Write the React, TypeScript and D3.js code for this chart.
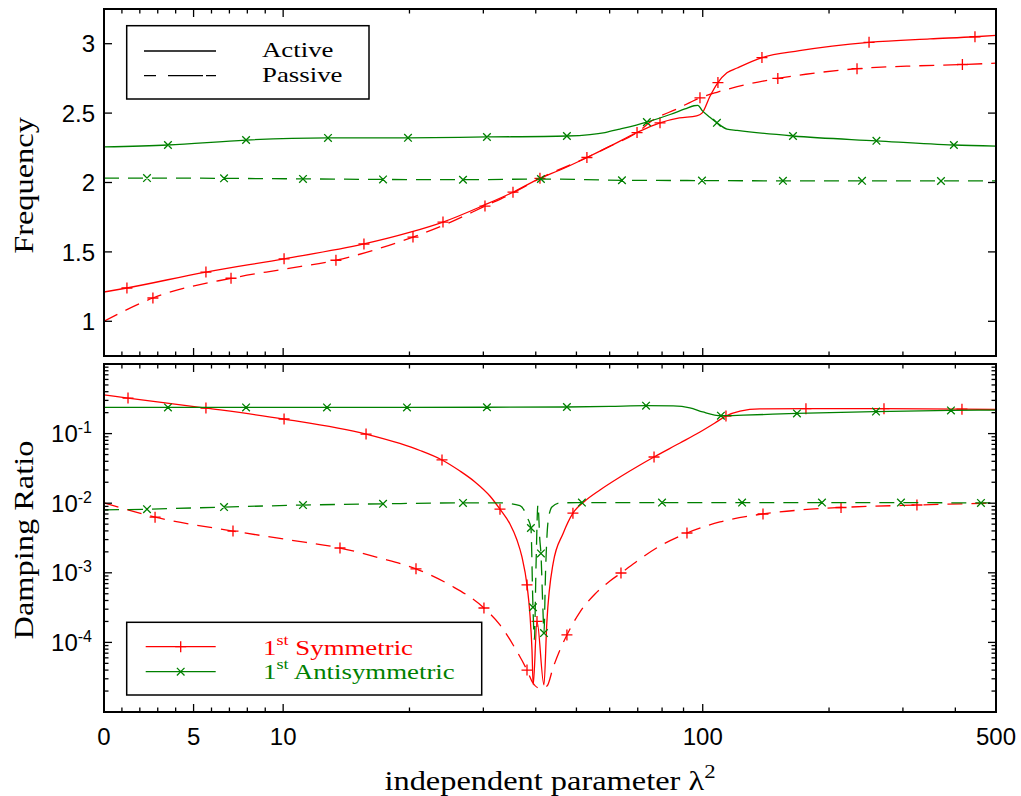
import React from 'react';
import * as d3 from 'd3';

type Pt = [number, number, number]; // [lambda^2, value, marker flag]

const RED = '#ff0000';
const GREEN = '#008000';
const SERIF = "'Liberation Serif', 'Times New Roman', serif";
const SANS = "'Liberation Sans', Arial, Helvetica, sans-serif";

// axis ticks
const xMajorTicks = [0, 5, 10, 100, 500];
const xMinorTicks = [1, 2, 3, 4, 6, 7, 8, 9, 20, 30, 40, 50, 60, 70, 80, 90, 200, 300, 400];
const freqTicks = [1, 1.5, 2, 2.5, 3];
const dampDecades = [-5, -4, -3, -2, -1, 0];
const dampLabelled = [-4, -3, -2, -1];

// Frequency, active system, 1st symmetric mode
const freqActiveSym: Pt[] = [
  [0, 1.211, 0], [1.28, 1.24, 1], [5.69, 1.355, 1], [10.05, 1.45, 1], [15.58, 1.557, 1],
  [20, 1.64, 0], [24.04, 1.715, 1], [30.3, 1.84, 0], [35.3, 1.93, 1], [40.9, 2.03, 0],
  [45.7, 2.09, 0], [52.96, 2.18, 1], [60, 2.26, 0], [69.7, 2.36, 0], [79.1, 2.43, 1],
  [88, 2.465, 0], [96.7, 2.48, 0], [99.6, 2.5, 0], [104, 2.62, 0], [108.7, 2.72, 1],
  [114.2, 2.79, 0], [120.8, 2.825, 0], [138.4, 2.9, 1], [170, 2.95, 0], [249.1, 3.01, 1],
  [348, 3.035, 0], [445.5, 3.05, 1], [500, 3.06, 0],
];
// Frequency, passive system, 1st symmetric mode
const freqPassiveSym: Pt[] = [
  [0, 1.0, 0], [2.73, 1.168, 1], [7.09, 1.31, 1], [10, 1.375, 0], [13.36, 1.44, 1],
  [20.39, 1.607, 1], [24.04, 1.69, 0], [30.27, 1.83, 1], [35.3, 1.925, 0], [40.93, 2.03, 1],
  [52.96, 2.18, 0], [60, 2.26, 0], [69.73, 2.36, 1], [76.1, 2.45, 0], [86.8, 2.53, 0],
  [98.5, 2.61, 1], [108.1, 2.65, 0], [120.8, 2.69, 0], [151, 2.75, 1], [176, 2.78, 0],
  [233.2, 2.82, 1], [320, 2.84, 0], [415.8, 2.85, 1], [500, 2.86, 0],
];
// Frequency, active system, 1st antisymmetric mode
const freqActiveAnti: Pt[] = [
  [0, 2.256, 0], [3.57, 2.27, 1], [7.93, 2.306, 1], [12.79, 2.321, 1], [19.84, 2.322, 1],
  [30.6, 2.328, 1], [47.46, 2.335, 1], [53.86, 2.345, 0], [58.48, 2.36, 0], [63.5, 2.385, 0],
  [73.6, 2.435, 1], [83.6, 2.49, 0], [90.7, 2.53, 0], [95.3, 2.553, 0], [97.4, 2.556, 0],
  [99.6, 2.52, 0], [104, 2.47, 0], [108.1, 2.43, 1], [114.2, 2.385, 0], [120.8, 2.375, 0],
  [164.1, 2.335, 1], [259.4, 2.3, 1], [396.8, 2.27, 1], [500, 2.262, 0],
];
// Frequency, passive system, 1st antisymmetric mode
const freqPassiveAnti: Pt[] = [
  [0, 2.032, 0], [2.4, 2.032, 1], [6.7, 2.03, 1], [11.15, 2.026, 1], [17.3, 2.022, 1],
  [26.83, 2.02, 1], [41.15, 2.025, 1], [64.2, 2.016, 1], [99.6, 2.014, 1], [155.3, 2.012, 1],
  [239.7, 2.012, 1], [369.7, 2.011, 1], [500, 2.011, 0],
];

// Damping ratio, active system, 1st symmetric mode
const dampActiveSym: Pt[] = [
  [0, 0.359, 0], [1.34, 0.324, 1], [5.69, 0.233, 1], [10.05, 0.162, 1], [15.76, 0.0986, 1],
  [18.97, 0.0721, 0], [21.19, 0.0572, 0], [23.91, 0.0418, 1], [26.39, 0.029, 0],
  [28.66, 0.0202, 0], [31.1, 0.0127, 0], [32.87, 0.0082, 1], [34.72, 0.00502, 0],
  [36.08, 0.00296, 0], [37.08, 0.00169, 0], [38.12, 0.00067, 1], [38.75, 0.000248, 0],
  [39.18, 0.0000778, 0], [39.44, 0.0000245, 0], [40.27, 0.0002, 1], [41.84, 0.0000245, 0],
  [42.5, 0.00019, 0], [44.0, 0.00137, 0], [46.5, 0.0037, 0], [49.05, 0.0072, 1],
  [52.41, 0.01076, 0], [56.9, 0.01549, 0], [63.5, 0.02378, 0], [70.87, 0.0354, 0],
  [76.55, 0.0461, 1], [88.26, 0.0733, 0], [98.5, 0.1054, 0], [106.9, 0.142, 0],
  [113.6, 0.179, 1], [122.7, 0.211, 0], [136.9, 0.226, 0], [176.2, 0.228, 1],
  [270.4, 0.228, 1], [414.8, 0.224, 1], [500, 0.222, 0],
];
// Damping ratio, passive system, 1st symmetric mode
const dampPassiveSym: Pt[] = [
  [0, 0.0101, 0], [2.85, 0.0063, 1], [7.2, 0.00398, 1], [10.38, 0.00296, 0], [13.66, 0.00227, 1],
  [17.01, 0.00163, 0], [20.73, 0.00114, 1], [24.98, 0.000668, 0], [30.1, 0.000312, 1],
  [32.87, 0.000178, 0], [35.68, 0.0000831, 0], [38.12, 0.00004, 1], [39.39, 0.0000261, 0],
  [40.8, 0.000022, 0], [42.54, 0.0000236, 0], [43.96, 0.0000429, 0], [45.67, 0.0000778, 0],
  [47.46, 0.000128, 1], [50.97, 0.000273, 0], [55.37, 0.000496, 0], [60.09, 0.000763, 0],
  [63.85, 0.000993, 1], [70.87, 0.00158, 0], [79.11, 0.00243, 0], [91.72, 0.00373, 1],
  [109.9, 0.00537, 0], [139.2, 0.007, 1], [170.5, 0.00798, 0], [213.6, 0.00867, 1],
  [324, 0.00942, 1], [500, 0.01007, 0],
];
// Damping ratio, active system, 1st antisymmetric mode
const dampActiveAnti: Pt[] = [
  [0, 0.238, 0], [3.57, 0.238, 1], [7.93, 0.238, 1], [12.72, 0.238, 1], [19.73, 0.238, 1],
  [30.6, 0.239, 1], [47.46, 0.241, 1], [60, 0.246, 0], [73.26, 0.252, 1], [85, 0.25, 0],
  [93.2, 0.235, 0], [100, 0.205, 0], [110.5, 0.181, 1], [125, 0.184, 0], [167.7, 0.195, 1],
  [258.8, 0.207, 1], [390.5, 0.215, 1], [500, 0.218, 0],
];
// Damping ratio, passive system, 1st antisymmetric mode
const dampPassiveAnti: Pt[] = [
  [0, 0.008, 0], [2.4, 0.0082, 1], [6.7, 0.0088, 1], [11.15, 0.0094, 1], [17.3, 0.0098, 1],
  [26.83, 0.0101, 1], [33, 0.0101, 0], [36.67, 0.0092, 0], [38.3, 0.006, 0], [38.95, 0.0044, 1],
  [39.39, 0.00032, 1], [39.7, 0.00011, 0], [40.05, 0.0012, 0], [40.48, 0.0095, 0],
  [40.9, 0.003, 0], [41.15, 0.0019, 1], [41.6, 0.0003, 0], [41.84, 0.000136, 1],
  [42.2, 0.001, 0], [42.8, 0.0055, 0], [43.7, 0.0088, 0], [45.67, 0.0101, 0],
  [51.53, 0.0102, 1], [79.98, 0.0102, 1], [124.1, 0.0102, 1], [192.4, 0.0102, 1],
  [296.8, 0.0102, 1], [460.4, 0.0101, 1], [500, 0.0101, 0],
];

// λ² axis: linear up to 10, logarithmic above (smooth join at 10)
const LIN = 0.0427;
const tx = (x: number) => (x <= 10 ? x * LIN : 10 * LIN + Math.log10(x / 10));

const DASH = '15,9';

function plusPath(x: number, y: number, r = 5.5) {
  return `M${x - r},${y}H${x + r}M${x},${y - r}V${y + r}`;
}
function crossPath(x: number, y: number, r = 3.8) {
  return `M${x - r},${y - r}L${x + r},${y + r}M${x - r},${y + r}L${x + r},${y - r}`;
}

function Serif({ x, y, size, anchor = 'start', rotate = false, fill = '#000', sx = 1.2, children }: any) {
  return (
    <text
      transform={`translate(${x},${y})${rotate ? ' rotate(-90)' : ''} scale(${sx},1)`}
      fontFamily={SERIF}
      fontSize={size}
      textAnchor={anchor}
      fill={fill}
    >
      {children}
    </text>
  );
}

export default function App() {
  const W = 1021;
  const H = 796;
  const L = 104;
  const R = 996;
  const top1 = 9, bot1 = 356;
  const top2 = 364, bot2 = 712;

  const xs = d3.scaleLinear().domain([tx(0), tx(500)]).range([L, R]);
  const X = (v: number) => xs(tx(v));
  const yF = d3.scaleLinear().domain([0.75, 3.25]).range([bot1, top1]);
  const yD = d3.scaleLog().domain([1e-5, 1]).range([bot2, top2]);

  const lineF = d3.line<Pt>().x(d => X(d[0])).y(d => yF(d[1])).curve(d3.curveMonotoneX);
  const lineD = d3.line<Pt>().x(d => X(d[0])).y(d => yD(d[1])).curve(d3.curveMonotoneX);

  const series = (
    data: Pt[],
    gen: d3.Line<Pt>,
    y: (v: number) => number,
    color: string,
    dashed: boolean,
    mark: 'plus' | 'cross',
    key: string,
  ) => (
    <g key={key}>
      <path d={gen(data) || ''} fill="none" stroke={color} strokeWidth={1.3} strokeDasharray={dashed ? DASH : undefined} />
      <path
        d={data.filter(d => d[2]).map(d => (mark === 'plus' ? plusPath(X(d[0]), y(d[1])) : crossPath(X(d[0]), y(d[1])))).join('')}
        fill="none"
        stroke={color}
        strokeWidth={1.3}
      />
    </g>
  );

  const xTicks = (yTop: number, yBot: number, key: string) => (
    <g key={key} stroke="#000" strokeWidth={1.3}>
      {xMajorTicks.concat(xMinorTicks).map(v => {
        const len = xMajorTicks.includes(v) ? 8 : 4.5;
        const x = X(v);
        return (
          <g key={v}>
            <line x1={x} x2={x} y1={yBot} y2={yBot - len} />
            <line x1={x} x2={x} y1={yTop} y2={yTop + len} />
          </g>
        );
      })}
    </g>
  );

  const logMinor: number[] = [];
  dampDecades.slice(0, -1).forEach(d => {
    for (let k = 2; k <= 9; k++) logMinor.push(k * Math.pow(10, d));
  });

  return (
    <svg width={W} height={H} style={{ position: 'absolute', left: 0, top: 0, background: '#fff' }}>
      <rect x={0} y={0} width={W} height={H} fill="#fff" />
      <defs>
        <clipPath id="c1"><rect x={L} y={top1} width={R - L} height={bot1 - top1} /></clipPath>
        <clipPath id="c2"><rect x={L} y={top2} width={R - L} height={bot2 - top2} /></clipPath>
      </defs>

      {/* upper panel: frequency */}
      <g clipPath="url(#c1)">
        {series(freqActiveSym, lineF, yF, RED, false, 'plus', 'fas')}
        {series(freqPassiveSym, lineF, yF, RED, true, 'plus', 'fps')}
        {series(freqActiveAnti, lineF, yF, GREEN, false, 'cross', 'faa')}
        {series(freqPassiveAnti, lineF, yF, GREEN, true, 'cross', 'fpa')}
      </g>
      {xTicks(top1, bot1, 'xt1')}
      <g stroke="#000" strokeWidth={1.3}>
        {freqTicks.map(v => (
          <g key={v}>
            <line x1={L} x2={L + 8} y1={yF(v)} y2={yF(v)} />
            <line x1={R} x2={R - 8} y1={yF(v)} y2={yF(v)} />
          </g>
        ))}
      </g>
      {freqTicks.map(v => (
        <text key={v} x={95} y={yF(v) + 8.6} textAnchor="end" fontFamily={SANS} fontSize={24}>
          {String(v)}
        </text>
      ))}
      <rect x={L} y={top1} width={R - L} height={bot1 - top1} fill="none" stroke="#000" strokeWidth={2} />

      {/* legend: line styles */}
      <rect x={126.7} y={25.7} width={242.3} height={73.3} fill="#fff" stroke="#000" strokeWidth={1.5} />
      <line x1={144} x2={216} y1={51} y2={51} stroke="#000" strokeWidth={1.3} />
      <line x1={144} x2={216} y1={75.7} y2={75.7} stroke="#000" strokeWidth={1.3} strokeDasharray="12,12,35,3,10" />
      <Serif x={262} y={57.3} size={22} sx={1.22}>Active</Serif>
      <Serif x={262} y={81.7} size={22} sx={1.22}>Passive</Serif>

      {/* lower panel: damping ratio */}
      <g clipPath="url(#c2)">
        {series(dampActiveSym, lineD, yD, RED, false, 'plus', 'das')}
        {series(dampPassiveSym, lineD, yD, RED, true, 'plus', 'dps')}
        {series(dampActiveAnti, lineD, yD, GREEN, false, 'cross', 'daa')}
        {series(dampPassiveAnti, lineD, yD, GREEN, true, 'cross', 'dpa')}
      </g>
      {xTicks(top2, bot2, 'xt2')}
      <g stroke="#000" strokeWidth={1.3}>
        {dampDecades.map(d => {
          const y = yD(Math.pow(10, d));
          return (
            <g key={d}>
              <line x1={L} x2={L + 8} y1={y} y2={y} />
              <line x1={R} x2={R - 8} y1={y} y2={y} />
            </g>
          );
        })}
        {logMinor.map(v => (
          <g key={v}>
            <line x1={L} x2={L + 4.5} y1={yD(v)} y2={yD(v)} />
            <line x1={R} x2={R - 4.5} y1={yD(v)} y2={yD(v)} />
          </g>
        ))}
      </g>
      {dampLabelled.map(d => (
        <text key={d} x={92} y={yD(Math.pow(10, d)) + 8.6} textAnchor="end" fontFamily={SANS} fontSize={24}>
          10
          <tspan fontSize={16} dy={-9}>{String(d)}</tspan>
        </text>
      ))}
      <rect x={L} y={top2} width={R - L} height={bot2 - top2} fill="none" stroke="#000" strokeWidth={2} />

      {/* legend: modes */}
      <rect x={126.7} y={622.3} width={355} height={72.7} fill="#fff" stroke="#000" strokeWidth={1.5} />
      <line x1={145.7} x2={215.7} y1={646.7} y2={646.7} stroke={RED} strokeWidth={1.3} />
      <path d={plusPath(180.7, 646.7)} stroke={RED} strokeWidth={1.3} />
      <line x1={145.7} x2={215.7} y1={671.7} y2={671.7} stroke={GREEN} strokeWidth={1.3} />
      <path d={crossPath(180.7, 671.7)} stroke={GREEN} strokeWidth={1.3} />
      <Serif x={263} y={655} size={22} sx={1.22} fill={RED}>
        1<tspan fontSize={15} dy={-10}>st</tspan>
        <tspan dy={10}> Symmetric</tspan>
      </Serif>
      <Serif x={263} y={679} size={22} sx={1.22} fill={GREEN}>
        1<tspan fontSize={15} dy={-10}>st</tspan>
        <tspan dy={10}> Antisymmetric</tspan>
      </Serif>

      {/* x tick labels */}
      {xMajorTicks.map(v => (
        <text key={v} x={X(v)} y={745} textAnchor="middle" fontFamily={SANS} fontSize={24}>
          {String(v)}
        </text>
      ))}

      {/* axis titles */}
      <Serif x={33} y={185.5} size={27} anchor="middle" rotate>Frequency</Serif>
      <Serif x={33} y={540} size={27} anchor="middle" rotate>Damping Ratio</Serif>
      <Serif x={550} y={789.5} size={27} anchor="middle">
        independent parameter λ<tspan fontSize={19} dy={-12}>2</tspan>
      </Serif>
    </svg>
  );
}
